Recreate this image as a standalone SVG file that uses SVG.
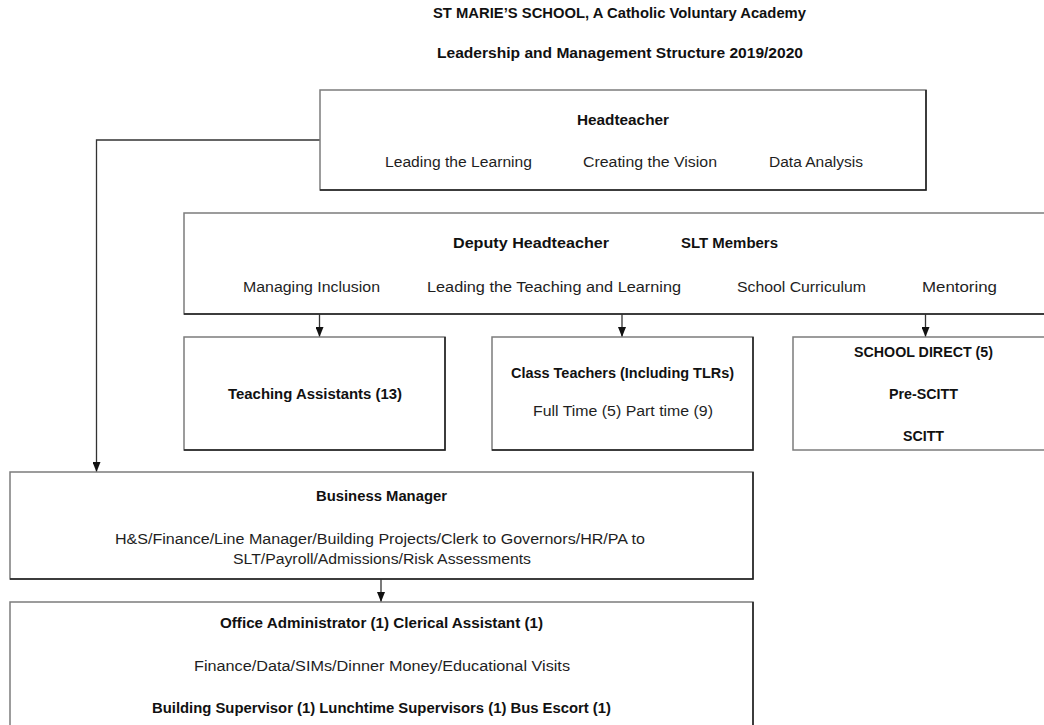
<svg xmlns="http://www.w3.org/2000/svg" width="1044" height="725" viewBox="0 0 1044 725">
<style>
  text { font-family: "Liberation Sans", Arial, sans-serif; font-size: 14px; fill: #1e1e1e; }
  .b { font-weight: bold; fill: #111; }
  .box { fill: #ffffff; stroke: #7c7c7c; stroke-width: 1.5; }
  .edge { fill: none; stroke: #1c1c1c; stroke-width: 1.5; }
  .conn { fill: none; stroke: #333333; stroke-width: 1.3; }
</style>
<defs>
  <marker id="arr" viewBox="0 0 10 8" markerWidth="10" markerHeight="8" refX="10" refY="4" orient="auto" markerUnits="userSpaceOnUse">
    <path d="M0,0 L10,4 L0,8 z" fill="#111"/>
  </marker>
</defs>
<rect width="1044" height="725" fill="#ffffff"/>

<g id="title">
  <text class="b" x="433" y="18" textLength="373" lengthAdjust="spacingAndGlyphs">ST MARIE’S SCHOOL, A Catholic Voluntary Academy</text>
  <text class="b" x="437" y="58" textLength="366" lengthAdjust="spacingAndGlyphs">Leadership and Management Structure 2019/2020</text>
</g>

<g id="connectors">
  <path class="conn" d="M320,140 H96.5 V472" marker-end="url(#arr)"/>
  <path class="conn" d="M319.5,314 V337" marker-end="url(#arr)"/>
  <path class="conn" d="M622,314 V337" marker-end="url(#arr)"/>
  <path class="conn" d="M925.5,314 V337" marker-end="url(#arr)"/>
  <path class="conn" d="M381,579 V602" marker-end="url(#arr)"/>
</g>

<g id="headteacher">
  <rect class="box" x="320" y="90" width="606" height="100"/>
  <path class="edge" d="M320,190 H926 V90"/>
  <text class="b" x="577" y="125" textLength="92" lengthAdjust="spacingAndGlyphs">Headteacher</text>
  <text x="385" y="167" textLength="147" lengthAdjust="spacingAndGlyphs">Leading the Learning</text>
  <text x="583" y="167" textLength="134" lengthAdjust="spacingAndGlyphs">Creating the Vision</text>
  <text x="769" y="167" textLength="94" lengthAdjust="spacingAndGlyphs">Data Analysis</text>
</g>

<g id="deputy">
  <rect class="box" x="184" y="213" width="880" height="101"/>
  <path class="edge" d="M184,314 H1064"/>
  <text class="b" x="453" y="248" textLength="156" lengthAdjust="spacingAndGlyphs">Deputy Headteacher</text>
  <text class="b" x="681" y="248" textLength="97" lengthAdjust="spacingAndGlyphs">SLT Members</text>
  <text x="243" y="292" textLength="137" lengthAdjust="spacingAndGlyphs">Managing Inclusion</text>
  <text x="427" y="292" textLength="254" lengthAdjust="spacingAndGlyphs">Leading the Teaching and Learning</text>
  <text x="737" y="292" textLength="129" lengthAdjust="spacingAndGlyphs">School Curriculum</text>
  <text x="922" y="292" textLength="75" lengthAdjust="spacingAndGlyphs">Mentoring</text>
</g>

<g id="teaching-assistants">
  <rect class="box" x="184" y="337" width="261" height="113"/>
  <path class="edge" d="M184,450 H445 V337"/>
  <text class="b" x="228" y="399" textLength="174" lengthAdjust="spacingAndGlyphs">Teaching Assistants (13)</text>
</g>

<g id="class-teachers">
  <rect class="box" x="492" y="337" width="261" height="113"/>
  <path class="edge" d="M492,450 H753 V337"/>
  <text class="b" x="511" y="378" textLength="223" lengthAdjust="spacingAndGlyphs">Class Teachers (Including TLRs)</text>
  <text x="533" y="416" textLength="180" lengthAdjust="spacingAndGlyphs">Full Time (5) Part time (9)</text>
</g>

<g id="school-direct">
  <rect class="box" x="793" y="337" width="270" height="113"/>
  <text class="b" x="854" y="357" textLength="139" lengthAdjust="spacingAndGlyphs">SCHOOL DIRECT (5)</text>
  <text class="b" x="889" y="399" textLength="69" lengthAdjust="spacingAndGlyphs">Pre-SCITT</text>
  <text class="b" x="903" y="441" textLength="41" lengthAdjust="spacingAndGlyphs">SCITT</text>
</g>

<g id="business-manager">
  <rect class="box" x="10" y="472" width="743" height="107"/>
  <path class="edge" d="M10,579 H753 V472"/>
  <text class="b" x="316" y="501" textLength="131" lengthAdjust="spacingAndGlyphs">Business Manager</text>
  <text x="115" y="544" textLength="530" lengthAdjust="spacingAndGlyphs">H&amp;S/Finance/Line Manager/Building Projects/Clerk to Governors/HR/PA to</text>
  <text x="233" y="564" textLength="298" lengthAdjust="spacingAndGlyphs">SLT/Payroll/Admissions/Risk Assessments</text>
</g>

<g id="office-staff">
  <rect class="box" x="10" y="602" width="743" height="140"/>
  <path class="edge" d="M753,602 V742"/>
  <text class="b" x="220" y="628" textLength="323" lengthAdjust="spacingAndGlyphs">Office Administrator (1) Clerical Assistant (1)</text>
  <text x="194" y="671" textLength="376" lengthAdjust="spacingAndGlyphs">Finance/Data/SIMs/Dinner Money/Educational Visits</text>
  <text class="b" x="152" y="713" textLength="459" lengthAdjust="spacingAndGlyphs">Building Supervisor (1) Lunchtime Supervisors (1) Bus Escort (1)</text>
</g>
</svg>
